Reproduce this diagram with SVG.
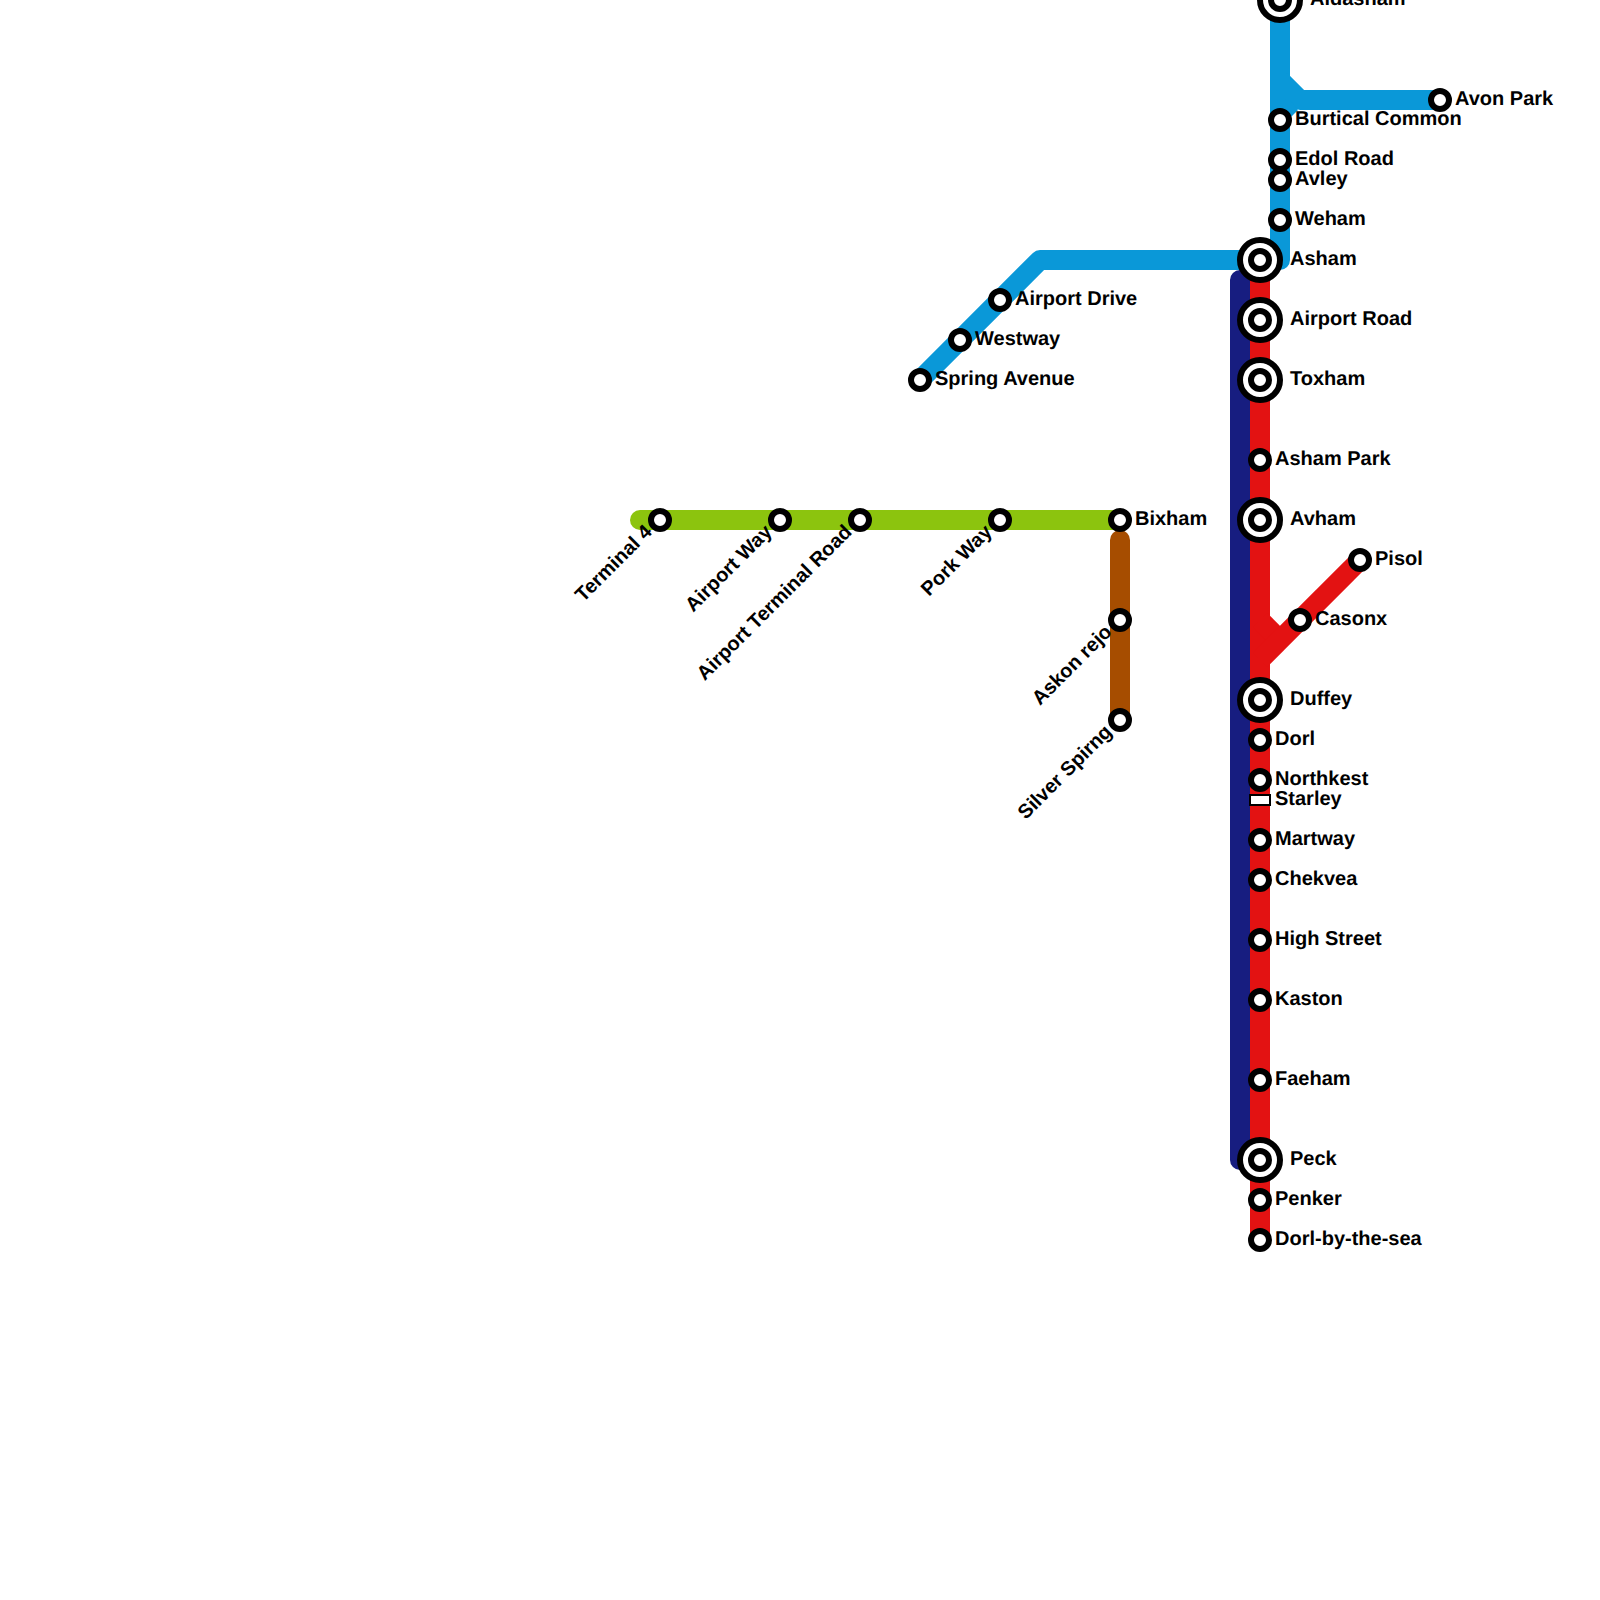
<svg xmlns="http://www.w3.org/2000/svg" width="1600" height="1600" viewBox="0 0 1600 1600">
<defs><style>
.l{fill:none;stroke-width:20;stroke-linejoin:round}
.s{fill:#fff;stroke:#000;stroke-width:6}
text{font-family:"Liberation Sans",Arial,sans-serif;font-weight:700;font-size:20px;fill:#000;text-rendering:geometricPrecision}
.e{text-anchor:end}
</style></defs>
<rect width="1600" height="1600" fill="#fff"/>
<g id="connectors">
<path class="l" stroke="#0a98d8" d="M1280 0V260H1260"/>
<path class="l" stroke="#0a98d8" d="M920 380L1040 260H1260"/>
<path class="l" stroke="#0a98d8" stroke-linejoin="miter" d="M1280 80L1300 100H1440"/>
<path d="M1290 100V118L1298 110Z" fill="#0a98d8"/>
<path class="l" stroke="#171d80" stroke-linecap="butt" d="M1260 280H1240V1160H1260"/>
<path class="l" stroke="#e31212" d="M1260 260V1240"/>
<path class="l" stroke="#e31212" stroke-linejoin="miter" d="M1260 620L1280 640"/>
<path class="l" stroke="#e31212" d="M1260 660L1360 560"/>
<path class="l" stroke="#8cc40e" stroke-linecap="round" d="M640 520H1120"/>
<path class="l" stroke="#a64d00" stroke-linecap="round" d="M1120 540V720"/>
</g>
<g id="n-aldasham"><circle class="s" cx="1280" cy="0" r="20"/><circle class="s" cx="1280" cy="0" r="9"/><text x="1310" y="5">Aldasham</text></g>
<g id="n-avon-park"><circle class="s" cx="1440" cy="100" r="9"/><text x="1455" y="105">Avon Park</text></g>
<g id="n-burtical"><circle class="s" cx="1280" cy="120" r="9"/><text x="1295" y="125">Burtical Common</text></g>
<g id="n-edol"><circle class="s" cx="1280" cy="160" r="9"/><text x="1295" y="165">Edol Road</text></g>
<g id="n-avley"><circle class="s" cx="1280" cy="180" r="9"/><text x="1295" y="185">Avley</text></g>
<g id="n-weham"><circle class="s" cx="1280" cy="220" r="9"/><text x="1295" y="225">Weham</text></g>
<g id="n-asham"><circle class="s" cx="1260" cy="260" r="20"/><circle class="s" cx="1260" cy="260" r="9"/><text x="1290" y="265">Asham</text></g>
<g id="n-airport-road"><circle class="s" cx="1260" cy="320" r="20"/><circle class="s" cx="1260" cy="320" r="9"/><text x="1290" y="325">Airport Road</text></g>
<g id="n-toxham"><circle class="s" cx="1260" cy="380" r="20"/><circle class="s" cx="1260" cy="380" r="9"/><text x="1290" y="385">Toxham</text></g>
<g id="n-asham-park"><circle class="s" cx="1260" cy="460" r="9"/><text x="1275" y="465">Asham Park</text></g>
<g id="n-avham"><circle class="s" cx="1260" cy="520" r="20"/><circle class="s" cx="1260" cy="520" r="9"/><text x="1290" y="525">Avham</text></g>
<g id="n-pisol"><circle class="s" cx="1360" cy="560" r="9"/><text x="1375" y="565">Pisol</text></g>
<g id="n-casonx"><circle class="s" cx="1300" cy="620" r="9"/><text x="1315" y="625">Casonx</text></g>
<g id="n-duffey"><circle class="s" cx="1260" cy="700" r="20"/><circle class="s" cx="1260" cy="700" r="9"/><text x="1290" y="705">Duffey</text></g>
<g id="n-dorl"><circle class="s" cx="1260" cy="740" r="9"/><text x="1275" y="745">Dorl</text></g>
<g id="n-northkest"><circle class="s" cx="1260" cy="780" r="9"/><text x="1275" y="785">Northkest</text></g>
<g id="n-starley"><rect x="1250" y="795" width="20" height="10" fill="#fff" stroke="#000" stroke-width="2"/><text x="1275" y="805">Starley</text></g>
<g id="n-martway"><circle class="s" cx="1260" cy="840" r="9"/><text x="1275" y="845">Martway</text></g>
<g id="n-chekvea"><circle class="s" cx="1260" cy="880" r="9"/><text x="1275" y="885">Chekvea</text></g>
<g id="n-high-street"><circle class="s" cx="1260" cy="940" r="9"/><text x="1275" y="945">High Street</text></g>
<g id="n-kaston"><circle class="s" cx="1260" cy="1000" r="9"/><text x="1275" y="1005">Kaston</text></g>
<g id="n-faeham"><circle class="s" cx="1260" cy="1080" r="9"/><text x="1275" y="1085">Faeham</text></g>
<g id="n-peck"><circle class="s" cx="1260" cy="1160" r="20"/><circle class="s" cx="1260" cy="1160" r="9"/><text x="1290" y="1165">Peck</text></g>
<g id="n-penker"><circle class="s" cx="1260" cy="1200" r="9"/><text x="1275" y="1205">Penker</text></g>
<g id="n-dorl-sea"><circle class="s" cx="1260" cy="1240" r="9"/><text x="1275" y="1245">Dorl-by-the-sea</text></g>
<g id="n-airport-drive"><circle class="s" cx="1000" cy="300" r="9"/><text x="1015" y="305">Airport Drive</text></g>
<g id="n-westway"><circle class="s" cx="960" cy="340" r="9"/><text x="975" y="345">Westway</text></g>
<g id="n-spring"><circle class="s" cx="920" cy="380" r="9"/><text x="935" y="385">Spring Avenue</text></g>
<g id="n-bixham"><circle class="s" cx="1120" cy="520" r="9"/><text x="1135" y="525">Bixham</text></g>
<g id="n-terminal4"><circle class="s" cx="660" cy="520" r="9"/><text class="e" transform="translate(653 533) rotate(-45)">Terminal 4</text></g>
<g id="n-airport-way"><circle class="s" cx="780" cy="520" r="9"/><text class="e" transform="translate(773 533) rotate(-45)">Airport Way</text></g>
<g id="n-airport-terminal"><circle class="s" cx="860" cy="520" r="9"/><text class="e" transform="translate(853 533) rotate(-45)">Airport Terminal Road</text></g>
<g id="n-pork-way"><circle class="s" cx="1000" cy="520" r="9"/><text class="e" transform="translate(993 533) rotate(-45)">Pork Way</text></g>
<g id="n-askon"><circle class="s" cx="1120" cy="620" r="9"/><text class="e" transform="translate(1113 633) rotate(-45)">Askon rejo</text></g>
<g id="n-silver"><circle class="s" cx="1120" cy="720" r="9"/><text class="e" transform="translate(1113 733) rotate(-45)">Silver Spirng</text></g>
</svg>
